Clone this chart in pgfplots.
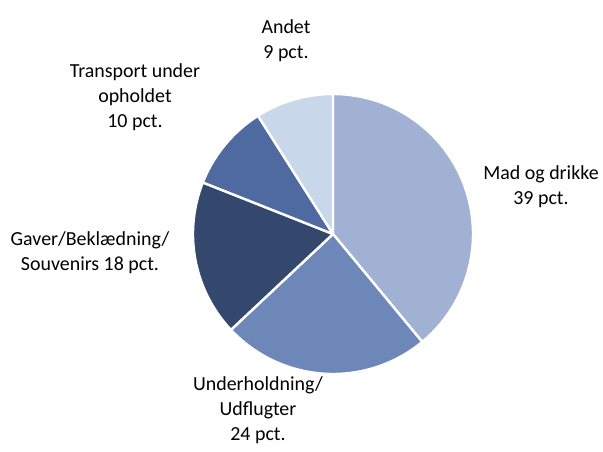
\documentclass[border=0pt]{standalone}
\usepackage{pgfplots}
\pgfplotsset{compat=1.18}
\usepackage{fontspec}
\setmainfont{Carlito}

\definecolor{madc}{HTML}{A0B1D4}
\definecolor{undc}{HTML}{6C87B8}
\definecolor{gavc}{HTML}{34486E}
\definecolor{trac}{HTML}{4E6AA0}
\definecolor{andc}{HTML}{C8D7EA}

% slice: start share, end share (cumulative percent), colour
\newcommand{\slice}[3]{%
  \addplot[fill=#3, draw=white, line width=1.2bp, line join=round,
    domain=#1:#2, samples=80, variable=\t]
    ({333+140*sin(3.6*\t)}, {218+140*cos(3.6*\t)}) -- (333,218) -- cycle;
}

\begin{document}
\begin{tikzpicture}
\begin{axis}[
    name=ax,
    width=301.5bp, height=226bp,
    scale only axis,
    xmin=0, xmax=603, ymin=0, ymax=452,
    hide axis,
    clip=false,
]
% shares: 39, 24, 18, 10, 9 (clockwise from top)
\slice{0}{39}{madc}
\slice{39}{63}{undc}
\slice{63}{81}{gavc}
\slice{81}{91}{trac}
\slice{91}{100}{andc}

\begin{scope}[every node/.style={align=center, font=\fontsize{10}{12.5}\selectfont, inner sep=0pt}]
\node at (286,411) {Andet\\9 pct.};
\node at (135,355) {Transport under\\opholdet\\10 pct.};
\node at (541,265) {Mad og drikke\\39 pct.};
\node at (90,199) {Gaver/Beklædning/\\Souvenirs 18 pct.};
\node at (258,42) {Underholdning/\\Udflugter\\24 pct.};
\end{scope}
\end{axis}
\pgfresetboundingbox
\path (ax.south west) rectangle (ax.north east);
\end{tikzpicture}
\end{document}
